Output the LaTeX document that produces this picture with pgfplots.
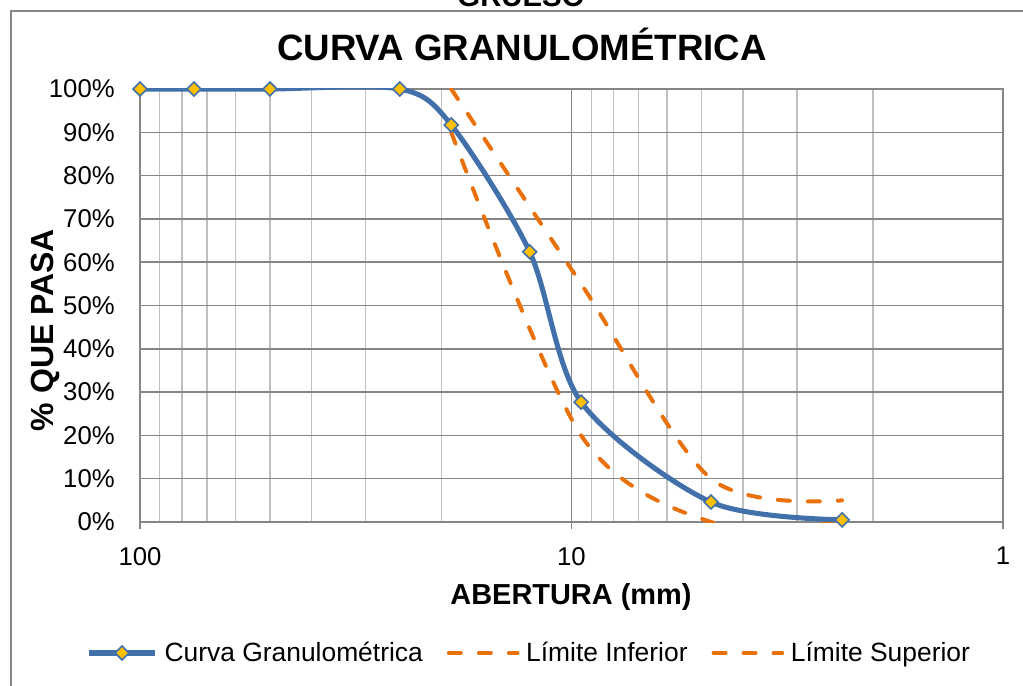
\documentclass[border=0pt]{standalone}
\usepackage{pgfplots}
\pgfplotsset{compat=1.18}
\usepackage{fontspec}
\setmainfont{Liberation Sans}
\definecolor{cblue}{RGB}{65,112,170}
\definecolor{corange}{RGB}{233,113,11}
\definecolor{cgold}{RGB}{255,192,0}
\definecolor{gmaj}{RGB}{134,134,134}
\definecolor{gmin}{RGB}{192,192,192}
\pgfplotsset{
  legcurve/.style={legend image code/.code={\draw[##1, mark repeat=2, mark phase=2] plot coordinates {(1.5pt,0pt) (26.5pt,0pt) (51.5pt,0pt)};}},
  legdash/.style={legend image code/.code={\draw[##1] (1.5pt,0pt) -- (53pt,0pt);}},
  limstyle/.style={corange, line width=3pt, dash pattern=on 9pt off 13.5pt, line cap=round},
}
\begin{document}
\begin{tikzpicture}
\useasboundingbox (0,0) rectangle (767.25pt,513.75pt);
\draw[gmaj, line width=1.1pt] (8.25pt,-5pt) -- (8.25pt,505.5pt) -- (775pt,505.5pt);
\node[font=\fontsize{22}{26}\selectfont\bfseries, anchor=base] at (390.75pt,508.5pt) {GRUESO};
\begin{axis}[
  at={(105pt,122.25pt)}, anchor=south west,
  scale only axis, width=647.25pt, height=324.75pt,
  xmode=log, x dir=reverse, xmin=1, xmax=100,
  ymin=0, ymax=100,
  xtick={1,10,100}, xticklabels={1,10,100},
  minor xtick={2,3,4,5,6,7,8,9,20,30,40,50,60,70,80,90},
  ytick={0,10,...,100},
  yticklabels={0\%,10\%,20\%,30\%,40\%,50\%,60\%,70\%,80\%,90\%,100\%},
  grid=both,
  major grid style={gmaj, line width=1.1pt},
  minor grid style={gmin, line width=1.1pt},
  axis line style={gmaj, line width=1.1pt},
  tick align=outside, tick pos=left,
  major tick length=5.5pt, minor tick length=0pt,
  xtick style={gmaj, line width=1.1pt},
  ytick style={draw=none},
  tick label style={font=\fontsize{19.3}{23}\selectfont},
  yticklabel style={inner sep=0pt, anchor=east, xshift=-13.25pt},
  xticklabel style={inner sep=0pt, anchor=north, yshift=-13.25pt},
  xlabel={ABERTURA (mm)},
  xlabel style={at={(axis description cs:0.4994,-0.1732)}, anchor=center, font=\fontsize{21.7}{26}\selectfont\bfseries},
  ylabel={\% QUE PASA},
  ylabel style={at={(axis description cs:-0.110,0.4434)}, anchor=center, font=\fontsize{24}{28}\selectfont\bfseries},
  title={CURVA GRANULOMÉTRICA},
  title style={at={(axis description cs:0.4426,1.0855)}, anchor=center, font=\fontsize{27.5}{32}\selectfont\bfseries},
  legend columns=3,
  legend style={at={(axis description cs:-0.0626,-0.3025)}, anchor=west, draw=none, fill=none, inner sep=0pt,
    font=\fontsize{19.8}{24}\selectfont,
    nodes={inner sep=0pt},
    /tikz/every odd column/.append style={column sep=5pt},
    /tikz/every even column/.append style={column sep=18pt}},
  legend cell align=left,
]
\addlegendimage{cblue, line width=3.8pt, mark=square*, mark size=3.7pt,
  mark options={rotate=45, fill=cgold, draw=cblue, line width=1.2pt, solid}, legcurve}
\addlegendimage{limstyle, legdash}
\addlegendimage{limstyle, legdash}
% Limite Inferior
\addplot[limstyle, smooth, forget plot]
  coordinates {(19,90) (9.5,20) (4.75,0) (2.36,0)};
% Limite Superior
\addplot[limstyle, smooth, forget plot]
  coordinates {(19,100) (9.5,55) (4.75,10) (2.36,5)};
% Curva
\addplot[cblue, line width=3.8pt, smooth, mark=square*, mark size=3.7pt,
  mark options={rotate=45, fill=cgold, draw=cblue, line width=1.2pt, solid}, forget plot]
  coordinates {(100,100) (75,100) (50,100) (25,100) (19,91.7) (12.5,62.4) (9.5,27.7) (4.75,4.6) (2.36,0.5)};
\legend{Curva Granulométrica, Límite Inferior, Límite Superior}
\end{axis}
\end{tikzpicture}
\end{document}
